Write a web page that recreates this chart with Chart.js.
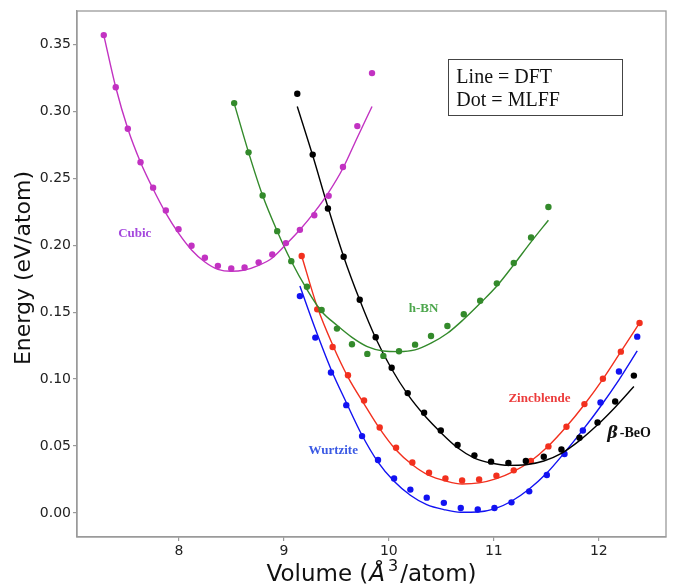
<!DOCTYPE html>
<html>
<head>
<meta charset="utf-8">
<script src="https://cdn.jsdelivr.net/npm/chart.js@4"></script>
<style>
  html, body { margin: 0; padding: 0; background: #fff; }
  #wrap { width: 673px; height: 586px; }
</style>
</head>
<body>
<div id="wrap"><canvas id="eosChart"></canvas></div>
<script>
// volumes (Å^3/atom), MLFF dots and DFT curve
const cubicVol  = [7.285, 7.399, 7.514, 7.635, 7.755, 7.876, 7.997, 8.121, 8.248, 8.372, 8.499, 8.626, 8.760, 8.890, 9.020, 9.153, 9.290, 9.427, 9.563, 9.700, 9.840];
const cubicMLFF = [0.357, 0.318, 0.287, 0.262, 0.243, 0.226, 0.212, 0.1996, 0.1906, 0.1846, 0.1827, 0.1834, 0.1872, 0.1931, 0.2016, 0.2115, 0.2224, 0.2369, 0.2585, 0.289, 0.3286];
const cubicDFT  = [0.357, 0.318, 0.287, 0.262, 0.242, 0.224, 0.209, 0.1965, 0.1875, 0.182, 0.1805, 0.1815, 0.185, 0.1905, 0.2005, 0.2115, 0.2245, 0.2395, 0.2575, 0.2805, 0.3037];

const hbnVol  = [8.527, 8.664, 8.798, 8.937, 9.071, 9.220, 9.360, 9.506, 9.649, 9.795, 9.948, 10.097, 10.25, 10.402, 10.558, 10.714, 10.870, 11.029, 11.19, 11.355, 11.52];
const hbnMLFF = [0.3062, 0.2694, 0.2371, 0.2105, 0.1881, 0.169, 0.1516, 0.1377, 0.126, 0.1188, 0.1173, 0.1208, 0.1257, 0.1322, 0.1397, 0.1484, 0.1585, 0.1715, 0.1867, 0.2058, 0.2286];
const hbnDFT  = [0.306, 0.2694, 0.2371, 0.2105, 0.188, 0.167, 0.1505, 0.1402, 0.1312, 0.1243, 0.121, 0.1205, 0.1218, 0.1268, 0.1342, 0.1447, 0.1566, 0.1695, 0.1854, 0.2025, 0.2187];

const beoVol  = [9.128, 9.275, 9.420, 9.570, 9.723, 9.875, 10.027, 10.18, 10.336, 10.495, 10.655, 10.815, 10.974, 11.139, 11.305, 11.476, 11.644, 11.816, 11.988, 12.156, 12.334];
const beoMLFF = [0.3132, 0.2677, 0.2274, 0.1914, 0.1593, 0.1312, 0.1084, 0.0895, 0.0748, 0.0616, 0.0507, 0.043, 0.0383, 0.0373, 0.0388, 0.042, 0.0474, 0.0562, 0.0676, 0.0832, 0.1026];
const beoDFT  = [0.3037, 0.267, 0.2285, 0.1914, 0.159, 0.1305, 0.1075, 0.0885, 0.0731, 0.0601, 0.0487, 0.041, 0.0373, 0.0355, 0.036, 0.0388, 0.0445, 0.054, 0.0658, 0.079, 0.0944];

const zbVol  = [9.17, 9.318, 9.465, 9.611, 9.764, 9.913, 10.069, 10.224, 10.383, 10.539, 10.698, 10.86, 11.025, 11.19, 11.353, 11.52, 11.692, 11.863, 12.039, 12.21, 12.388];
const zbMLFF = [0.1919, 0.1521, 0.124, 0.1029, 0.084, 0.0638, 0.0487, 0.0377, 0.030, 0.0258, 0.0243, 0.025, 0.0278, 0.0318, 0.0388, 0.0497, 0.0644, 0.0813, 0.1002, 0.1205, 0.1419];
const zbDFT  = [0.192, 0.154, 0.1255, 0.1015, 0.0815, 0.063, 0.047, 0.036, 0.028, 0.0239, 0.0216, 0.0224, 0.0256, 0.031, 0.0388, 0.05, 0.0645, 0.081, 0.1, 0.1205, 0.1419];

const wzVol  = [9.153, 9.30, 9.449, 9.595, 9.745, 9.897, 10.05, 10.205, 10.361, 10.524, 10.685, 10.847, 11.006, 11.168, 11.337, 11.505, 11.673, 11.848, 12.016, 12.192, 12.366];
const wzMLFF = [0.162, 0.131, 0.1049, 0.0805, 0.0574, 0.0395, 0.0258, 0.0174, 0.0114, 0.0075, 0.0037, 0.0025, 0.0037, 0.0079, 0.0161, 0.0283, 0.044, 0.0616, 0.0825, 0.1056, 0.1317];
const wzDFT  = [0.1695, 0.1374, 0.1074, 0.0825, 0.058, 0.038, 0.0236, 0.0132, 0.0062, 0.0025, 0.0005, 0.0007, 0.003, 0.0087, 0.0179, 0.0298, 0.045, 0.062, 0.0795, 0.0994, 0.121];

const xTicks = [8, 9, 10, 11, 12];
const yTicks = [0, 0.05, 0.10, 0.15, 0.20, 0.25, 0.30, 0.35];

function pts(xs, ys) {
    return xs.map(function (x, i) { return { x: x, y: ys[i] }; });
}

function curve(xs, ys, color) {
    return {
        data: pts(xs, ys), showLine: true, borderColor: color, borderWidth: 1.4,
        pointRadius: 0, cubicInterpolationMode: 'monotone', fill: false
    };
}

function dots(xs, ys, color) {
    return {
        data: pts(xs, ys), showLine: false, backgroundColor: color, borderWidth: 0,
        pointRadius: 3.2
    };
}

const MAG = '#c232c2', GRN = '#338a2b', BLK = '#000000', RED = '#f2301e', BLU = '#1212f2';

// phase labels in data coordinates
const labels = [
    { text: 'Cubic', x: 7.58, y: 0.2083, color: '#a447dd' },
    { text: 'h-BN', x: 10.33, y: 0.1529, color: '#4ca64c' },
    { text: 'Wurtzite', x: 9.47, y: 0.0467, color: '#3b5ae4' },
    { text: 'Zincblende', x: 11.435, y: 0.0852, color: '#ec3c3c' }
];

const decor = {
    id: 'decor',
    afterDraw: function (chart) {
        var ctx = chart.ctx, a = chart.chartArea;
        var xs = chart.scales.x, ys = chart.scales.y;
        ctx.save();

        // frame
        ctx.strokeStyle = '#9a9a9a';
        ctx.lineWidth = 1.3;
        ctx.strokeRect(a.left, a.top, a.right - a.left, a.bottom - a.top);

        // phase labels
        ctx.textBaseline = 'middle';
        ctx.textAlign = 'center';
        ctx.font = 'bold 13px "Liberation Serif", serif';
        labels.forEach(function (l) {
            ctx.fillStyle = l.color;
            ctx.fillText(l.text, xs.getPixelForValue(l.x), ys.getPixelForValue(l.y));
        });
        ctx.textAlign = 'left';
        ctx.fillStyle = '#111';
        var bx = xs.getPixelForValue(12.08), by = ys.getPixelForValue(0.0592);
        ctx.font = 'italic bold 16px "DejaVu Serif", serif';
        ctx.fillText('β', bx, by);
        var bw = ctx.measureText('β').width;
        ctx.font = 'bold 14px "Liberation Serif", serif';
        ctx.fillText('-BeO', bx + bw + 2, by);

        // DFT / MLFF note
        var x0 = xs.getPixelForValue(10.567), y0 = ys.getPixelForValue(0.339);
        var x1 = xs.getPixelForValue(12.226), y1 = ys.getPixelForValue(0.2975);
        ctx.strokeStyle = '#444';
        ctx.lineWidth = 1;
        ctx.strokeRect(Math.round(x0) + 0.5, Math.round(y0) + 0.5, Math.round(x1 - x0), Math.round(y1 - y0));
        ctx.fillStyle = '#111';
        ctx.font = '20px "Liberation Serif", serif';
        ctx.textBaseline = 'alphabetic';
        ctx.fillText('Line = DFT', x0 + 8, y0 + 24);
        ctx.fillText('Dot = MLFF', x0 + 8, y0 + 47);

        // axis titles
        ctx.fillStyle = '#111';
        ctx.font = '22px "DejaVu Sans", sans-serif';
        ctx.save();
        ctx.translate(24, 268);
        ctx.rotate(-Math.PI / 2);
        ctx.textAlign = 'center';
        ctx.textBaseline = 'middle';
        ctx.fillText('Energy (eV/atom)', 0, 0);
        ctx.restore();

        var parts = [
            { t: 'Volume (', f: '23px "DejaVu Sans", sans-serif', dy: 0, gap: 1 },
            { t: 'Å', f: 'italic 23px "DejaVu Sans", sans-serif', dy: 0, gap: 3 },
            { t: '3', f: '16px "DejaVu Sans", sans-serif', dy: -10, gap: 2 },
            { t: '/atom)', f: '23px "DejaVu Sans", sans-serif', dy: 0, gap: 0 }
        ];
        var cx = 266.5;
        ctx.textAlign = 'left';
        ctx.textBaseline = 'alphabetic';
        parts.forEach(function (p) {
            ctx.font = p.f;
            ctx.fillText(p.t, cx, 581 + p.dy);
            cx += ctx.measureText(p.t).width + p.gap;
        });
        ctx.restore();
    }
};

const tickFont = { family: '"DejaVu Sans", sans-serif', size: 14 };

new Chart(document.getElementById('eosChart'), {
    type: 'scatter',
    data: {
        datasets: [
            curve(cubicVol, cubicDFT, MAG), dots(cubicVol, cubicMLFF, MAG),
            curve(hbnVol, hbnDFT, GRN), dots(hbnVol, hbnMLFF, GRN),
            curve(beoVol, beoDFT, BLK), dots(beoVol, beoMLFF, BLK),
            curve(zbVol, zbDFT, RED), dots(zbVol, zbMLFF, RED),
            curve(wzVol, wzDFT, BLU), dots(wzVol, wzMLFF, BLU)
        ]
    },
    options: {
        responsive: true,
        maintainAspectRatio: false,
        animation: false,
        layout: { padding: { top: 11, right: 7, left: 0, bottom: 0 } },
        plugins: { legend: { display: false }, tooltip: { enabled: false } },
        scales: {
            x: {
                type: 'linear', min: 7.03, max: 12.64,
                afterBuildTicks: function (s) { s.ticks = xTicks.map(function (v) { return { value: v }; }); },
                afterFit: function (s) { s.height = 49; },
                ticks: { font: tickFont, color: '#222', padding: 2, maxRotation: 0,
                    callback: function (v) { return String(v); } },
                grid: { drawOnChartArea: false, tickLength: 4, color: '#9a9a9a', lineWidth: 1.2 },
                border: { color: '#9a9a9a', width: 1.3 }
            },
            y: {
                type: 'linear', min: -0.018, max: 0.375,
                afterBuildTicks: function (s) { s.ticks = yTicks.map(function (v) { return { value: v }; }); },
                afterFit: function (s) { s.width = 77; },
                ticks: { font: tickFont, color: '#222', padding: 2,
                    callback: function (v) { return Number(v).toFixed(2); } },
                grid: { drawOnChartArea: false, tickLength: 4, color: '#9a9a9a', lineWidth: 1.2 },
                border: { color: '#9a9a9a', width: 1.3 }
            }
        }
    },
    plugins: [decor]
});
</script>
</body>
</html>
